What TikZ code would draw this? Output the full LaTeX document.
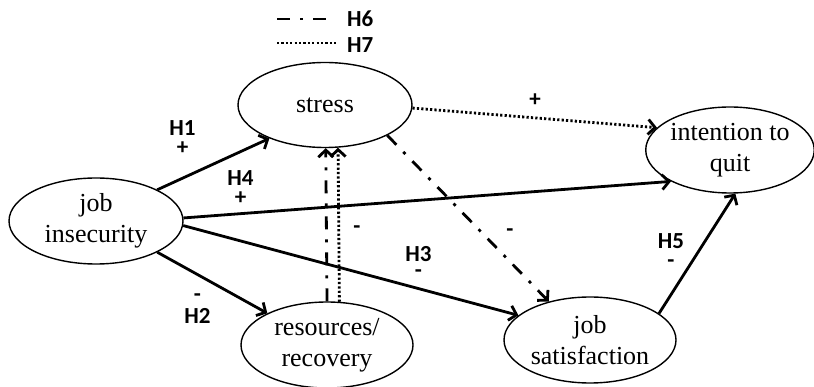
\documentclass[tikz,border=0pt]{standalone}
\usepackage{fontspec}
\setmainfont{Liberation Serif}
\newfontfamily\labfont{Carlito}
\usetikzlibrary{arrows.meta,shapes.geometric}
\begin{document}
\begin{tikzpicture}[x=1pt,y=-1pt,
 var/.style={ellipse, draw, line width=1.4pt, inner sep=0pt, align=center, font=\fontsize{26}{31}\selectfont},
 lab/.style={font=\labfont\bfseries\fontsize{23}{23}\selectfont, inner sep=0pt},
 lab2/.style={inner sep=0pt, align=center, anchor=south, font=\labfont\bfseries\fontsize{23}{#1}\selectfont},
 arr/.style={line width=2.8pt, -{Straight Barb[length=7pt,width=15pt]}},
 dd/.style={dash pattern=on 13pt off 10pt on 3pt off 10pt},
 dt/.style={dash pattern=on 2.2pt off 2.2pt}]
\useasboundingbox (0,0) rectangle (814,387);

\node[var, minimum width=174pt, minimum height=85pt] (st) at (325,105) {stress};
\node[var, minimum width=174pt, minimum height=86pt] (ji) at (96,221) {job\\insecurity};
\node[var, minimum width=172pt, minimum height=86pt] (rr) at (327,345) {resources/\\recovery};
\node[var, minimum width=172pt, minimum height=86pt] (js) at (590,340) {job\\satisfaction};
\node[var, minimum width=160pt, minimum height=86pt] (iq) at (730,150) {intention to\\quit};

% legend
\coordinate (l6a) at (277,19); \coordinate (l6b) at (327,19);
\coordinate (l7a) at (277,43); \coordinate (l7b) at (337,43);
\draw[line width=2.8pt, dd] (l6a) -- (l6b);
\draw[line width=2.8pt, dt] (l7a) -- (l7b);
\node[lab, anchor=west] (h6) at (347,19) {H6};
\node[lab, anchor=west] (h7) at (347,45) {H7};

% solid paths
\draw[arr] (ji.27) -- (st.211);
\draw[arr] (ji.2) -- (iq.208);
\draw[arr] (ji.-3) -- (js.161);
\draw[arr] (ji.-27) -- (rr.152);
\draw[arr] (js.21) -- (iq.-83);

% H6 dash-dot
\draw[arr, dd] (rr.90) -- (st.-89);
\draw[arr, dd] (st.-26) -- (js.137);
% H7 dotted
\draw[arr, dt] (rr.74) -- (st.-73);
\draw[arr, dt] (st.-2) -- (iq.163);

% labels
\node[lab2=19.6] (a1) at (182.5,155) {H1\\+};
\node[lab2=19.6] (a4) at (240.5,205) {H4\\+};
\node[lab2=21.4] (a2) at (197.5,323.4) {-\\H2};
\node[lab2=16.6] (a3) at (418.5,278) {H3\\-};
\node[lab2=19.6] (a5) at (671,268) {H5\\-};
\node[lab] (b1) at (357,230) {-};
\node[lab] (b2) at (510,233) {-};
\node[lab] (b3) at (535,100) {+};
\end{tikzpicture}
\end{document}
